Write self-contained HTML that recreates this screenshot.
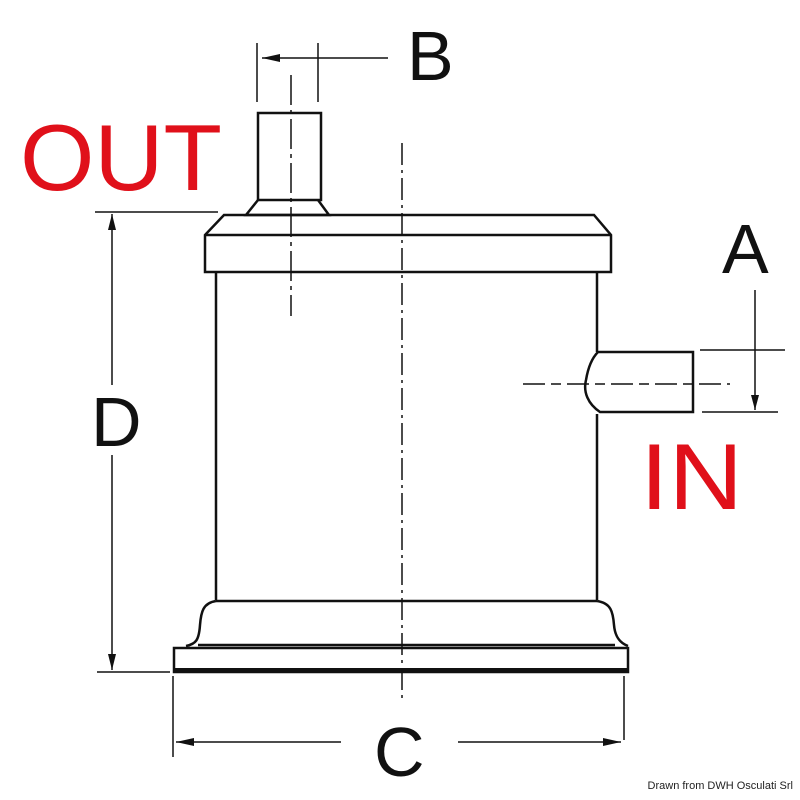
<!DOCTYPE html>
<html><head><style>
html,body{margin:0;padding:0;background:#fff;width:800px;height:800px;overflow:hidden}
</style></head><body>
<svg width="800" height="800" viewBox="0 0 800 800" xmlns="http://www.w3.org/2000/svg" style="font-family:'Liberation Sans',sans-serif">
<g fill="none" stroke="#111" stroke-width="2.5">
<path d="M258,200 V113 H321 V200 Z"/>
<path d="M258,200 L246,215 H329 L318,200"/>
<path d="M224,215 H594 L611,235 V272 H205 V235 Z"/>
<line x1="205" y1="235" x2="611" y2="235"/>
<line x1="216" y1="272" x2="216" y2="600"/>
<line x1="597" y1="272" x2="597" y2="352"/>
<line x1="597" y1="414" x2="597" y2="600"/>
<line x1="216" y1="601" x2="597" y2="601"/>
<path d="M216,601 C203,603 201,612 200,625 C199,640 196,644 186,646"/>
<path d="M597,601 C611,603 613,612 614,625 C615,637 620,643 628,646"/>
<line x1="198" y1="645" x2="615" y2="645"/>
<path d="M174,648 V672 H628 V648 Z"/>
<line x1="174" y1="670" x2="628" y2="670" stroke-width="4"/>
<path d="M598,352 H693 V412 H600 C588,404 583,392 586,380 C588,368 592,358 598,352"/>
</g>
<g stroke="#111" stroke-width="1.5" fill="none">
<line x1="402" y1="143" x2="402" y2="700" stroke-dasharray="22,5,3,5"/>
<line x1="291" y1="75" x2="291" y2="316" stroke-dasharray="30,5,4,5"/>
<line x1="523" y1="384" x2="730" y2="384" stroke-dasharray="22,6,10,6"/>
<line x1="257" y1="43" x2="257" y2="102"/>
<line x1="318" y1="43" x2="318" y2="102"/>
<line x1="262" y1="58" x2="388" y2="58"/>
<line x1="95" y1="212" x2="218" y2="212"/>
<line x1="97" y1="672" x2="170" y2="672"/>
<line x1="112" y1="214" x2="112" y2="385"/>
<line x1="112" y1="455" x2="112" y2="670"/>
<line x1="700" y1="350" x2="785" y2="350"/>
<line x1="702" y1="412" x2="778" y2="412"/>
<line x1="755" y1="290" x2="755" y2="410"/>
<line x1="173" y1="676" x2="173" y2="757"/>
<line x1="624" y1="676" x2="624" y2="740"/>
<line x1="176" y1="742" x2="341" y2="742"/>
<line x1="458" y1="742" x2="621" y2="742"/>
</g>
<g fill="#111">
<polygon points="262,58 280,54 280,62"/>
<polygon points="112,214 108,230 116,230"/>
<polygon points="112,670 108,654 116,654"/>
<polygon points="755,410 751,395 759,395"/>
<polygon points="176,742 194,738 194,746"/>
<polygon points="621,742 603,738 603,746"/>
</g>
<g font-size="70" fill="#111">
<text x="407" y="80">B</text>
<text x="91" y="446">D</text>
<text x="722" y="273">A</text>
<text x="374" y="776">C</text>
</g>
<g fill="#e0101a">
<text x="20" y="190" font-size="94" textLength="202" lengthAdjust="spacingAndGlyphs">OUT</text>
<text x="640" y="509" font-size="94" textLength="103" lengthAdjust="spacingAndGlyphs">IN</text>
</g>
<text x="793" y="789" font-size="11" fill="#222" text-anchor="end">Drawn from DWH Osculati Srl</text>
</svg>
</body></html>
